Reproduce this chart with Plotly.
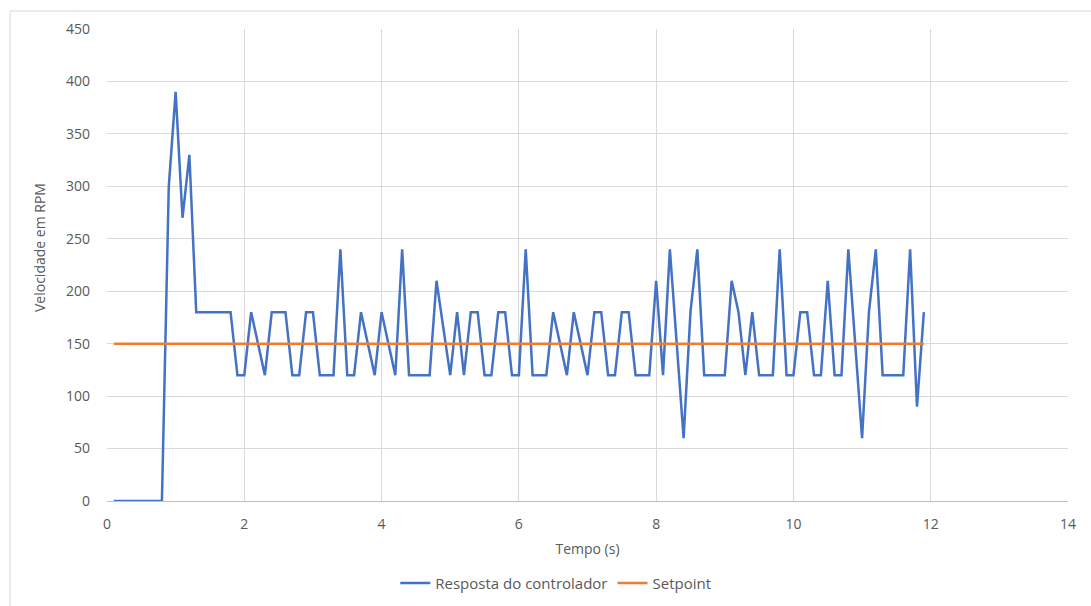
import plotly.graph_objects as go

tempo = [round(0.1 * i, 1) for i in range(1, 120)]
resposta = [
    0, 0, 0, 0, 0, 0, 0, 0,            # 0.1-0.8
    300, 390, 270, 330,                # 0.9-1.2
    180, 180, 180, 180, 180, 180,      # 1.3-1.8
    120, 120, 180, 150, 120,           # 1.9-2.3
    180, 180, 180, 120, 120,           # 2.4-2.8
    180, 180, 120, 120, 120,           # 2.9-3.3
    240, 120, 120, 180, 150, 120,      # 3.4-3.9
    180, 150, 120, 240,                # 4.0-4.3
    120, 120, 120, 120, 210, 165,      # 4.4-4.9
    120, 180, 120, 180, 180,           # 5.0-5.4
    120, 120, 180, 180, 120, 120,      # 5.5-6.0
    240, 120, 120, 120, 180, 150,      # 6.1-6.6
    120, 180, 150, 120, 180, 180,      # 6.7-7.2
    120, 120, 180, 180, 120, 120,      # 7.3-7.8
    120, 210, 120, 240, 150, 60,       # 7.9-8.4
    180, 240, 120, 120, 120, 120,      # 8.5-9.0
    210, 180, 120, 180, 120, 120,      # 9.1-9.6
    120, 240, 120, 120, 180, 180,      # 9.7-10.2
    120, 120, 210, 120, 120, 240,      # 10.3-10.8
    150, 60, 180, 240, 120, 120,       # 10.9-11.4
    120, 120, 240, 90, 180,            # 11.5-11.9
]
setpoint = [150] * len(tempo)

x_ticks = [0, 2, 4, 6, 8, 10, 12, 14]
y_ticks = [0, 50, 100, 150, 200, 250, 300, 350, 400, 450]

font_family = "Open Sans"
text_color = "#595959"

fig = go.Figure()
fig.add_trace(go.Scatter(x=tempo, y=resposta, mode="lines",
                         name="Resposta do controlador",
                         line=dict(color="#4472C4", width=2.5)))
fig.add_trace(go.Scatter(x=tempo, y=setpoint, mode="lines",
                         name="Setpoint",
                         line=dict(color="#ED7D31", width=2.5)))

fig.update_layout(
    width=1091, height=606,
    margin=dict(l=107, r=23, t=29, b=105, autoexpand=False),
    paper_bgcolor="white", plot_bgcolor="white",
    font=dict(family=font_family, size=14, color=text_color),
    showlegend=True,
    legend=dict(orientation="h", x=0.467, xanchor="center", y=-0.174, yanchor="middle",
                font=dict(size=15, color=text_color), itemwidth=30),
    shapes=[dict(type="rect", xref="paper", yref="paper",
                 x0=(10 - 107) / 961, x1=(1100 - 107) / 961,
                 y0=(501 - 620) / 472, y1=(501 - 11) / 472,
                 line=dict(color="#D9D9D9", width=1), layer="below")],
    annotations=[dict(text="Velocidade em RPM", xref="paper", yref="paper",
                      x=(39 - 107) / 961, y=(501 - 248) / 472,
                      xanchor="center", yanchor="middle", textangle=-90,
                      showarrow=False, font=dict(size=14, color=text_color))],
)
fig.update_xaxes(range=[0, 14], tickvals=x_ticks, ticktext=[str(v) for v in x_ticks],
                 showgrid=True, gridcolor="#D9D9D9", gridwidth=1,
                 showline=True, linecolor="#BFBFBF", linewidth=1,
                 zeroline=False, ticks="", ticklabelstandoff=10,
                 title=dict(text="Tempo (s)", font=dict(size=14, color=text_color), standoff=12))
fig.update_yaxes(range=[0, 450], tickvals=y_ticks, ticktext=[str(v) for v in y_ticks],
                 showgrid=True, gridcolor="#D9D9D9", gridwidth=1,
                 showline=False, zeroline=False, ticks="", ticklabelstandoff=16)

fig.write_html("out.html")
